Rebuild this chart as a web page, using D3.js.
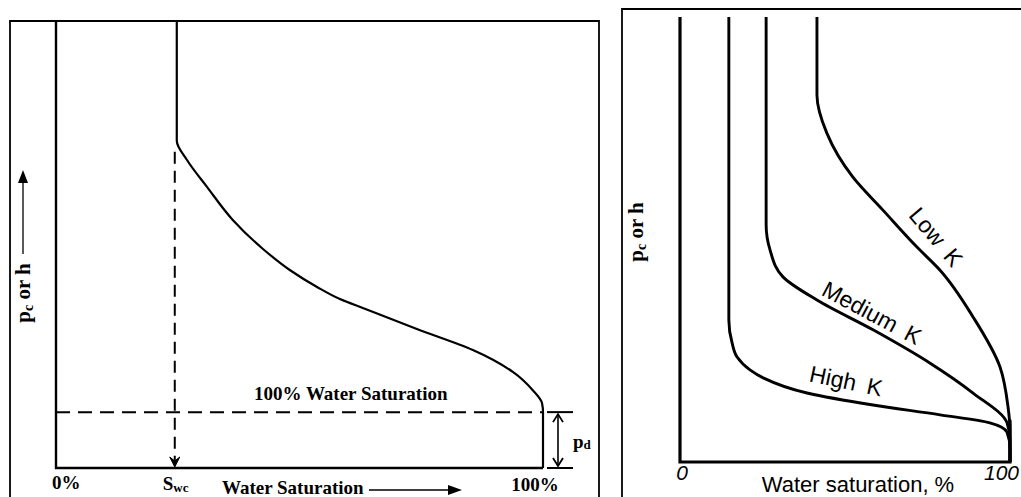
<!DOCTYPE html>
<html>
<head>
<meta charset="utf-8">
<script src="https://cdn.jsdelivr.net/npm/d3@7"></script>
<style>
  body { margin: 0; background: #fff; }
  svg { display: block; }
</style>
</head>
<body>
<svg id="chart" width="1021" height="497"></svg>
<script>
// ---- left panel: typical capillary pressure curve (Sw in %, pc in arbitrary units) ----
const leftSw = [24.8, 24.8, 26.9, 31.0, 36.3, 42.5, 48.0, 53.6, 58.3, 63.0, 74.1, 85.6, 93.8, 97.9, 99.8, 100, 100];
const leftPc = [10, 7.32, 6.89, 6.29, 5.55, 4.90, 4.43, 4.05, 3.78, 3.58, 3.11, 2.64, 2.15, 1.74, 1.45, 1.25, 0];
const swc = 24.8;          // irreducible water saturation
const pd = 1.25;           // displacement pressure
const leftLabels = ['0%', 'Swc', 'Water Saturation', '100%', '100% Water Saturation', 'pd'];

// ---- right panel: curves for three permeabilities ----
const curveNames = ['High K', 'Medium K', 'Low K'];
const highSw = [14.8, 14.8, 15.8, 17.3, 21.2, 25.2, 38.5, 58.5, 78.8, 93.9, 99.1, 100, 100];
const highPc = [10, 3.19, 2.67, 2.36, 2.07, 1.89, 1.55, 1.28, 1.06, 0.88, 0.67, 0.31, 0];
const medSw = [26.1, 26.1, 27.3, 31.2, 41.5, 58.5, 75.8, 88.8, 99.1, 100, 100];
const medPc = [10, 5.33, 4.76, 4.16, 3.64, 2.97, 2.22, 1.55, 0.88, 0.49, 0];
const lowSw = [41.5, 41.5, 44.5, 52.4, 61.5, 71.8, 78.8, 88.8, 97.0, 99.4, 100, 100];
const lowPc = [10, 8.25, 7.39, 6.40, 5.66, 4.83, 4.31, 3.26, 2.13, 1.24, 0.72, 0];
const rightTicks = ['0', '100'];

const serif = '"Liberation Serif", "Times New Roman", serif';
const sans = '"Liberation Sans", Arial, sans-serif';

const svg = d3.select('#chart');
const zip = (xs, ys) => xs.map((v, i) => [v, ys[i]]);

// outer frames
svg.append('path').attr('d', 'M10,497V21H599V497')
  .attr('fill', 'none').attr('stroke', '#000').attr('stroke-width', 1.8);
svg.append('path').attr('d', 'M622,497V9H1021')
  .attr('fill', 'none').attr('stroke', '#000').attr('stroke-width', 1.8);

// ================= LEFT =================
const xL = d3.scaleLinear().domain([0, 100]).range([56, 543]);
const yL = d3.scaleLinear().domain([0, 10]).range([468, 21]);
const gL = svg.append('g');

gL.append('path')
  .attr('d', d3.line()([[xL(0), yL(10)], [xL(0), yL(0)], [xL(100), yL(0)]]))
  .attr('fill', 'none').attr('stroke', '#000').attr('stroke-width', 2.4);

const lineL = d3.line().x(d => xL(d[0])).y(d => yL(d[1])).curve(d3.curveMonotoneY);
gL.append('path')
  .attr('d', lineL(zip(leftSw, leftPc)))
  .attr('fill', 'none').attr('stroke', '#000').attr('stroke-width', 2.2);

// dashed Swc drop line with arrow
const sx = xL(swc) - 2;
gL.append('line')
  .attr('x1', sx).attr('x2', sx)
  .attr('y1', yL(leftPc[1]) + 11).attr('y2', yL(0) - 6)
  .attr('stroke', '#000').attr('stroke-width', 2).attr('stroke-dasharray', '12,7');
gL.append('path')
  .attr('d', `M${sx - 5},${yL(0) - 11}L${sx},${yL(0) - 1}L${sx + 5},${yL(0) - 11}L${sx},${yL(0) - 7}Z`)
  .attr('fill', '#000').attr('stroke', '#000').attr('stroke-width', 1);

// dashed 100% water saturation line (pd level)
gL.append('line')
  .attr('x1', xL(0)).attr('x2', xL(100))
  .attr('y1', yL(pd)).attr('y2', yL(pd))
  .attr('stroke', '#000').attr('stroke-width', 2).attr('stroke-dasharray', '14,8');
gL.append('line')
  .attr('x1', xL(100) + 4).attr('x2', xL(100) + 30)
  .attr('y1', yL(pd)).attr('y2', yL(pd))
  .attr('stroke', '#000').attr('stroke-width', 2);
gL.append('line')
  .attr('x1', xL(100) + 4).attr('x2', xL(100) + 30)
  .attr('y1', yL(0)).attr('y2', yL(0))
  .attr('stroke', '#000').attr('stroke-width', 2);

// pd double arrow
const px = xL(100) + 15;
gL.append('line')
  .attr('x1', px).attr('x2', px).attr('y1', yL(pd) + 2).attr('y2', yL(0) - 2)
  .attr('stroke', '#000').attr('stroke-width', 1.6);
gL.append('path')
  .attr('d', `M${px - 5},${yL(pd) + 10}L${px},${yL(pd) + 2}L${px + 5},${yL(pd) + 10}` +
             `M${px - 5},${yL(0) - 10}L${px},${yL(0) - 2}L${px + 5},${yL(0) - 10}`)
  .attr('fill', 'none').attr('stroke', '#000').attr('stroke-width', 1.8);

// left text
const tL = (x, y, s) => gL.append('text').attr('x', x).attr('y', y)
  .attr('font-family', serif).attr('font-weight', 'bold').attr('font-size', 19)
  .attr('fill', '#000').text(s);

tL(xL(0) - 4, 489, leftLabels[0]);
const swcText = gL.append('text').attr('x', xL(swc) - 14).attr('y', 490)
  .attr('font-family', serif).attr('font-weight', 'bold').attr('font-size', 19);
swcText.append('tspan').text(leftLabels[1].charAt(0));
swcText.append('tspan').attr('font-size', 13).attr('dy', 2).text(leftLabels[1].slice(1));
tL(222, 494, leftLabels[2]);
tL(xL(100), 491, leftLabels[3]).attr('text-anchor', 'middle').attr('dx', -8);
tL(254, 400, leftLabels[4]);
const pdText = gL.append('text').attr('x', xL(100) + 30).attr('y', 448)
  .attr('font-family', serif).attr('font-weight', 'bold').attr('font-size', 19);
pdText.append('tspan').text(leftLabels[5].charAt(0));
pdText.append('tspan').attr('font-size', 13).attr('dy', 1).text(leftLabels[5].slice(1));

// x-axis arrow
gL.append('line').attr('x1', 369).attr('x2', 452).attr('y1', 490).attr('y2', 490)
  .attr('stroke', '#000').attr('stroke-width', 1.3);
gL.append('path').attr('d', 'M462,490L448,485L448,495Z').attr('fill', '#000');

// y label
function yLabel(g, cx, cy) {
  const t = g.append('text')
    .attr('transform', `translate(${cx},${cy}) rotate(-90)`)
    .attr('text-anchor', 'middle')
    .attr('font-family', serif).attr('font-weight', 'bold').attr('font-size', 21);
  t.append('tspan').text('p');
  t.append('tspan').attr('font-size', 14).attr('dy', 3).text('c');
  t.append('tspan').attr('dy', -3).text(' or h');
}
yLabel(gL, 30, 293);
gL.append('line').attr('x1', 23).attr('x2', 23).attr('y1', 254).attr('y2', 180)
  .attr('stroke', '#000').attr('stroke-width', 1.3);
gL.append('path').attr('d', 'M23,170L18,183L28,183Z').attr('fill', '#000');

// ================= RIGHT =================
const xR = d3.scaleLinear().domain([0, 100]).range([680, 1010]);
const yR = d3.scaleLinear().domain([0, 10]).range([462, 17]);
const gR = svg.append('g');

gR.append('path')
  .attr('d', d3.line()([[xR(0), yR(10)], [xR(0), yR(0)], [xR(100), yR(0)], [xR(100), yR(0.95)]]))
  .attr('fill', 'none').attr('stroke', '#000').attr('stroke-width', 3.2);

const lineR = d3.line().x(d => xR(d[0])).y(d => yR(d[1])).curve(d3.curveMonotoneY);
[[highSw, highPc], [medSw, medPc], [lowSw, lowPc]].forEach(([sw, pc]) => {
  gR.append('path')
    .attr('d', lineR(zip(sw, pc)))
    .attr('fill', 'none').attr('stroke', '#000').attr('stroke-width', 2.9);
});

// curve labels, sitting just above each curve
const labelPos = [
  { x: 846, y: 381, a: 12 },
  { x: 872, y: 313, a: 28 },
  { x: 936, y: 237, a: 50 }
];
curveNames.forEach((name, i) => {
  const p = labelPos[i];
  gR.append('text')
    .attr('transform', `translate(${p.x},${p.y}) rotate(${p.a})`)
    .attr('text-anchor', 'middle').attr('dominant-baseline', 'central')
    .attr('font-family', sans).attr('font-size', 23).attr('word-spacing', 5)
    .text(name);
});

gR.append('text').attr('x', xR(0) + 2).attr('y', 480).attr('text-anchor', 'middle')
  .attr('font-family', sans).attr('font-size', 21).attr('font-style', 'italic').text(rightTicks[0]);
gR.append('text').attr('x', xR(100) + 9).attr('y', 480).attr('text-anchor', 'end')
  .attr('font-family', sans).attr('font-size', 21).attr('font-style', 'italic').text(rightTicks[1]);
gR.append('text').attr('x', 858).attr('y', 492).attr('text-anchor', 'middle')
  .attr('font-family', sans).attr('font-size', 22).text('Water saturation, %');

yLabel(gR, 643, 232);
</script>
</body>
</html>
